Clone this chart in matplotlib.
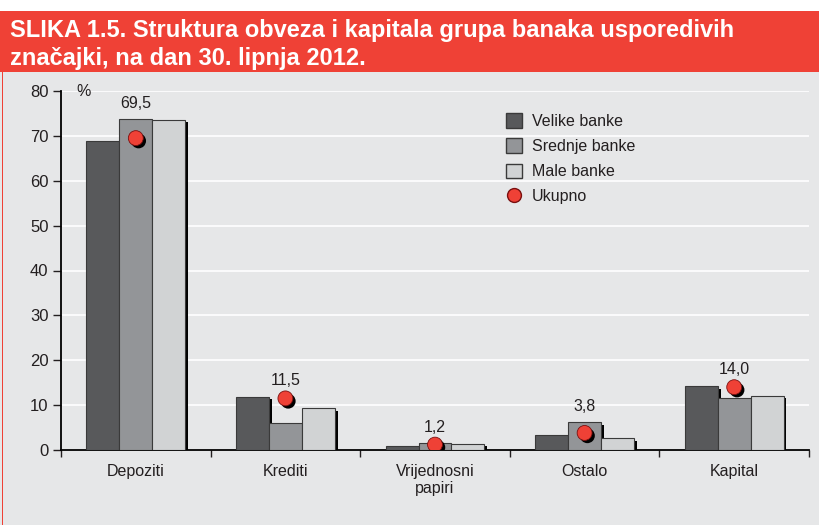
import numpy as np
import matplotlib.pyplot as plt
import matplotlib.patheffects as pe
from matplotlib.patches import Patch, Rectangle
from matplotlib.lines import Line2D

plt.rcParams['font.family'] = ['Liberation Sans', 'DejaVu Sans']

#data
categories = ['Depoziti', 'Krediti', 'Vrijednosni\npapiri', 'Ostalo', 'Kapital']
velike = [68.8, 11.9, 0.9, 3.4, 14.3]
srednje = [73.7, 6.1, 1.5, 6.2, 11.5]
male = [73.6, 9.3, 1.4, 2.6, 12.1]
ukupno = [69.5, 11.5, 1.2, 3.8, 14.0]
series_names = ['Velike banke', 'Srednje banke', 'Male banke', 'Ukupno']
title = 'SLIKA 1.5. Struktura obveza i kapitala grupa banaka usporedivih\nznačajki, na dan 30. lipnja 2012.'

c_dark = '#58595b'
c_mid = '#939598'
c_light = '#d1d3d4'
c_bg = '#e6e7e8'
c_red = '#ef4136'
c_text = '#231f20'

fig = plt.figure(figsize=(8.2, 5.25), dpi=100)
fig.patch.set_facecolor('white')

#background panels
fig.patches.append(Rectangle((0, 0), 1, 453/525, transform=fig.transFigure,
                             facecolor=c_bg, edgecolor='none', zorder=-2))
fig.patches.append(Rectangle((0.002, 0), 0.002, 453/525, transform=fig.transFigure,
                             facecolor=c_red, edgecolor='none', zorder=-1))
fig.patches.append(Rectangle((0, 453/525), 1, 61/525, transform=fig.transFigure,
                             facecolor=c_red, edgecolor='none', zorder=-1))
fig.text(0.012, 0.915, title, color='white', fontsize=17, fontweight='bold',
         va='center', ha='left', linespacing=1.3)

ax = fig.add_axes([61/820, 75/525, 748/820, 359/525])
ax.set_facecolor('none')

x = np.arange(len(categories))
w = 0.22
shadow = [pe.SimplePatchShadow(offset=(2, -2), shadow_rgbFace='black', alpha=1.0), pe.Normal()]
for i, (vals, col) in enumerate([(velike, c_dark), (srednje, c_mid), (male, c_light)]):
    bars = ax.bar(x + (i - 1) * w, vals, w, color=col, edgecolor='#3a3a3a', linewidth=0.8, zorder=3)
    for b in bars:
        b.set_path_effects(shadow)

pts = ax.scatter(x, ukupno, s=115, color=c_red, edgecolor='#7a1010', linewidth=0.6, zorder=5)
pts.set_path_effects([pe.SimplePatchShadow(offset=(2, -2), shadow_rgbFace='black', alpha=1.0), pe.Normal()])

for i, v in enumerate(ukupno):
    top = max(velike[i], srednje[i], male[i], v)
    ax.annotate(('%.1f' % v).replace('.', ','), (x[i], top), xytext=(0, 6),
                textcoords='offset points', ha='center', va='bottom', fontsize=11.5, color=c_text)

ax.set_xlim(-0.5, len(categories) - 0.5)
ax.set_ylim(0, 80)
ax.set_yticks(np.arange(0, 81, 10))
ax.yaxis.grid(True, color='white', linewidth=1.2, zorder=0)
ax.set_axisbelow(True)
ax.set_xticks(np.arange(-0.5, len(categories)), minor=False)
ax.set_xticklabels([])
ax.set_xticks(x, minor=True)
ax.set_xticklabels(categories, minor=True, fontsize=11.5, color=c_text)
ax.tick_params(axis='x', which='minor', length=0, pad=10)
ax.tick_params(axis='x', which='major', length=5, width=1, direction='out', colors=c_text)
ax.tick_params(axis='y', length=6, width=1, direction='out', labelsize=12, colors=c_text, pad=3)
for s in ['top', 'right']:
    ax.spines[s].set_visible(False)
ax.spines['left'].set_linewidth(1.3)
ax.spines['bottom'].set_linewidth(1.3)
ax.text(0.02, 80, '%', fontsize=11.5, ha='left', va='center', color=c_text,
        transform=ax.get_yaxis_transform())

handles = [Patch(facecolor=c_dark, edgecolor='#3a3a3a'),
           Patch(facecolor=c_mid, edgecolor='#3a3a3a'),
           Patch(facecolor=c_light, edgecolor='#3a3a3a'),
           Line2D([], [], marker='o', ls='none', color=c_red, markeredgecolor='#7a1010', markersize=10)]
leg = ax.legend(handles, series_names, loc='upper left', bbox_to_anchor=(0.576, 0.978), frameon=False,
                fontsize=11.5, handlelength=1.0, handleheight=1.0, labelspacing=0.6, handletextpad=0.6)
for t in leg.get_texts():
    t.set_color(c_text)

fig.savefig('out.png', dpi=100, facecolor=fig.get_facecolor())
